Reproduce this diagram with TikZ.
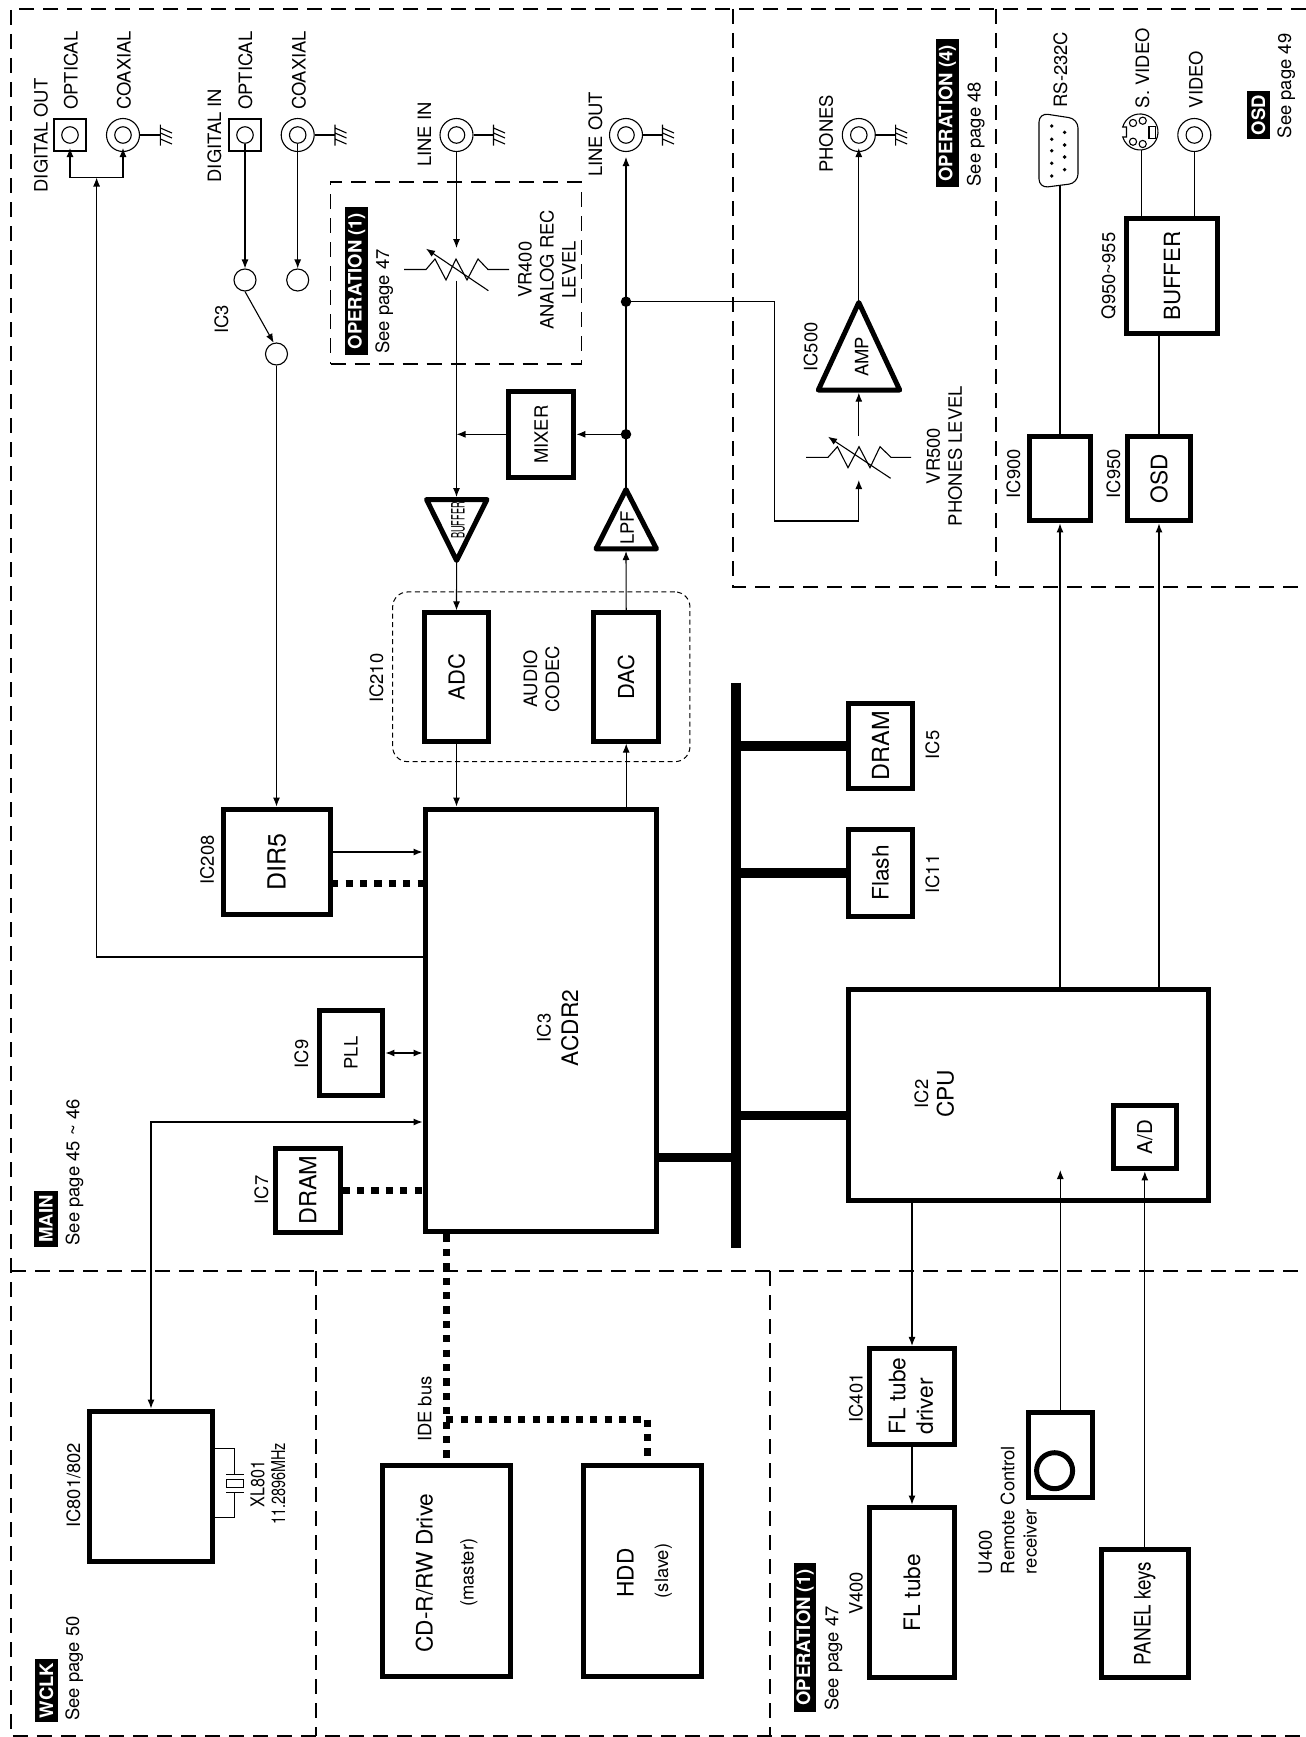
\documentclass[tikz,border=0pt]{standalone}
\usepackage{graphicx}
\usepackage{fontspec}
\setmainfont{TeX Gyre Heros}
\usetikzlibrary{arrows.meta}
\newcommand\rt[1]{\rotatebox{90}{#1}}
\tikzset{
  every node/.append style={font=\fontsize{18.4}{22}\selectfont},
  bigt/.style={font=\fontsize{22.7}{26}\selectfont},
  hugt/.style={font=\fontsize{22}{26}\selectfont},
  wire/.style={line width=1.1pt,>={Latex[length=9pt,width=7pt]}},
  frameline/.style={line width=1.7pt,dash pattern=on 15pt off 9pt},
  bx/.style 2 args={draw,line width=5pt,inner sep=0pt,minimum width=#1pt+2.4pt,minimum height=#2pt+2.4pt},
  tag/.style 2 args={fill=black,text=white,inner sep=0pt,minimum width=#1pt,minimum height=#2pt,font=\fontsize{18.5}{22}\selectfont\bfseries},
  lab/.style={rotate=90,anchor=base west,inner sep=0pt},
  clab/.style={rotate=90,anchor=base,inner sep=0pt},
  mlab/.style={rotate=90,anchor=center,inner sep=0pt,align=center},
  llab/.style={rotate=90,anchor=center,inner sep=0pt,align=left},
  jackout/.style={circle,draw,line width=1.1pt,minimum size=33pt,inner sep=0pt},
  jackin/.style={circle,draw,line width=1.1pt,minimum size=16.5pt,inner sep=0pt},
  optbox/.style={draw,line width=1.1pt,minimum size=32pt,inner sep=0pt},
  swc/.style={circle,draw,line width=1.1pt,minimum size=22pt,inner sep=0pt},
  jdot/.style={circle,fill=black,minimum size=10.5pt,inner sep=0pt},
  tri/.style={line width=5pt,line join=round},
  dotbus/.style={line width=7pt,dash pattern=on 7.2pt off 7.2pt},
  busbar/.style={line width=9.5pt},
  gnd/.pic={\draw[line width=1.1pt] (0,-10.5) -- (0,10.5)
     (0,-7) -- (11.5,-2) (0,-2) -- (11.5,3) (0,4) -- (11.5,9);},
}
\begin{document}
\begin{tikzpicture}[x=1pt,y=-1pt]
\useasboundingbox (0,0) rectangle (1306,1737);
\fill[white] (0,0) rectangle (1306,1737);
% dashed frames
\draw[frameline] (1306,9) -- (11,9) -- (11,1736) -- (1306,1736);
\draw[frameline] (11,1271) -- (1306,1271);
\draw[frameline] (733,9) -- (733,587) -- (1306,587);
\draw[frameline] (996,9) -- (996,587);
\draw[frameline] (316,1271) -- (316,1736);
\draw[frameline] (770,1271) -- (770,1736);
\node[frameline,draw,minimum width=251pt,minimum height=181.7pt,inner sep=0pt] (oponebox) at (456,273) {};
\node[draw,line width=1pt,dash pattern=on 5pt off 3.5pt,rounded corners=15pt,minimum width=297.3pt,minimum height=169.7pt,inner sep=0pt] (codecbox) at (541.3,676.8) {};
% connectors jacks
\node[optbox] (doptbox) at (70,135) {};
\node[jackin] (dopt) at (70,135) {};
\node[jackout] (dcoax) at (123,135) {};
\node[jackin] (dcoaxi) at (123,135) {};
\node[optbox] (ioptbox) at (245,135) {};
\node[jackin] (iopt) at (245,135) {};
\node[jackout] (icoax) at (297.7,135) {};
\node[jackin] (icoaxi) at (297.7,135) {};
\node[jackout] (linein) at (456.5,135) {};
\node[jackin] (lineini) at (456.5,135) {};
\node[jackout] (lineout) at (626,135) {};
\node[jackin] (lineouti) at (626,135) {};
\node[jackout] (phones) at (858.8,135) {};
\node[jackin] (phonesi) at (858.8,135) {};
\node[jackout] (video) at (1194.3,135) {};
\node[jackin] (videoi) at (1194.3,135) {};
\coordinate (g1) at (160.4,135); \coordinate (g2) at (335,135); \coordinate (g3) at (493.5,135);
\coordinate (g4) at (662.5,135); \coordinate (g5) at (895.6,135);
\foreach \a/\b in {dcoax/g1,icoax/g2,linein/g3,lineout/g4,phones/g5}{
  \draw[wire] (\a.east) -- (\b); \pic at (\b) {gnd};
}
% switch circles
\node[swc] (swa) at (245,280) {};
\node[swc] (swb) at (297.7,280) {};
\node[swc] (swc) at (276.5,354) {};
% boxes
\node[bx={63}{83.8}] (mixer) at (541.2,434.8) {\rt{MIXER}};
\node[bx={62.5}{125.8},hugt] (adc) at (456.5,677) {\rt{ADC}};
\node[bx={63}{125.8},hugt] (dac) at (626.2,677) {\rt{DAC}};
\node[bx={229.5}{420.5}] (acdr) at (541,1020.5) {};
\node[bx={104}{103.5},font=\fontsize{25}{28}\selectfont] (dir5) at (276.8,862) {\rt{DIR5}};
\node[bx={61.5}{83.5}] (pll) at (351,1053) {\rt{PLL}};
\node[bx={62}{81},font=\fontsize{23.5}{28}\selectfont] (dramb) at (307.8,1190.3) {\rt{DRAM}};
\node[bx={121}{148.5}] (wclk) at (151,1486.5) {};
\node[bx={126}{209.5}] (cdr) at (446.2,1571) {};
\node[bx={115}{209.5}] (hdd) at (642.3,1571) {};
\node[bx={62.5}{83.5},font=\fontsize{23.5}{28}\selectfont] (drama) at (880.5,746) {\rt{DRAM}};
\node[bx={62.5}{84},bigt] (flash) at (880.5,872.8) {\rt{Flash}};
\node[bx={358}{209.5}] (cpu) at (1028.3,1095) {};
\node[bx={61}{61.5},font=\fontsize{20.5}{24}\selectfont] (ad) at (1144.8,1137) {\rt{A/D}};
\node[bx={83.5}{94}] (flb) at (912,1396.6) {};
\node[bx={83.5}{168.5},bigt] (flt) at (912,1592.5) {\rt{FL tube}};
\node[bx={62}{83.5}] (remote) at (1060.3,1455) {};
\node[circle,draw,line width=5pt,minimum size=36pt,inner sep=0pt] (remotec) at (1054.6,1470.7) {};
\node[bx={84}{126.5},bigt] (panel) at (1144.8,1613.5) {\rt{\scalebox{.83}[1]{PANEL keys}}};
\node[bx={59.5}{82.5}] (icnine) at (1060,478.5) {};
\node[bx={61}{82.5},bigt] (osd) at (1159,478.5) {\rt{OSD}};
\node[bx={88.8}{113.2},font=\fontsize{22.3}{26}\selectfont] (bufbox) at (1172.3,276) {\rt{BUFFER}};
% triangles
\coordinate (bufa) at (426.5,499.5); \coordinate (bufb) at (487,499.5); \coordinate (buftip) at (456.6,560.5);
\coordinate (lpftip) at (626,489.5); \coordinate (lpfa) at (596,548.8); \coordinate (lpfb) at (656.5,548.8);
\coordinate (amptip) at (858.8,302.5); \coordinate (ampa) at (818.3,390); \coordinate (ampb) at (899.7,390);
\draw[tri] (bufa) -- (bufb) -- (buftip) -- cycle;
\draw[tri] (lpftip) -- (lpfa) -- (lpfb) -- cycle;
\draw[tri] (amptip) -- (ampa) -- (ampb) -- cycle;
% digital out
\coordinate (dsa) at (70,148); \coordinate (dsb) at (123,148);
\coordinate (dj) at (96.6,177.5); \coordinate (dk) at (96.6,957);
\draw[wire,<->] (dsa) -- (dsa |- dj) -- (dsb |- dj) -- (dsb);
\draw[wire,->] (acdr.west |- dk) -- (dk) -- (dj);
% digital in
\draw[wire,->] (iopt.south) -- (swa.north);
\draw[wire,->] (icoaxi.south) -- (swb.north);
\draw[wire,->] (swa.south) -- (swc.104);
\draw[wire,->] (swc.south) -- (dir5.north -| swc.south);
% line in + VR400
\coordinate (vatop) at (456.5,248); \coordinate (vabot) at (456.5,280.7); \coordinate (bufin) at (456.5,497);
\draw[wire,->] (linein.south) -- (vatop);
\draw[wire,line join=miter] (404,269.5) -- (426,269.5) -- (435,259) -- (446,280) -- (456,259) -- (467,280) -- (478,259) -- (488,269.5) -- (509,269.5);
\draw[wire,->] (488.4,290.7) -- (426,248.7);
\draw[wire,->] (vabot) -- (bufin);
\draw[wire,->] (456.6,562.5) -- (adc.north);
\draw[wire,->] (adc.south) -- (acdr.north -| adc.south);
\draw[wire,->] (acdr.north -| dac.south) -- (dac.south);
% line out
\coordinate (lotip) at (626,157);
\node[jdot] (ja) at (626,301.7) {};
\node[jdot] (jb) at (626,434.3) {};
\draw[wire,->] (lpftip) -- (lotip);
\draw[wire,->] (dac.north) -- (626,551);
\draw[wire,->] (jb) -- (mixer.east |- jb);
\draw[wire,->] (mixer.west |- jb) -- (vabot |- jb);
% phones path
\coordinate (vbtop) at (858.8,480); \coordinate (vbbot) at (858.8,436);
\draw[wire,->] (ja) -- (774.3,301.7) -- (774.3,521) -- (858.8,521) -- (vbtop);
\draw[wire] (806,457.3) -- (828,457.3) -- (837.4,446.7) -- (848,467.7) -- (859,446.7) -- (870,467.7) -- (880,446.7) -- (891,457.3) -- (911,457.3);
\draw[wire,->] (890.6,478.3) -- (828,436.7);
\draw[wire,->] (vbbot) -- (858.8,392.7);
\draw[wire,->] (amptip) -- (858.8,148);
% ACDR side
\draw[wire,->] ([yshift=10pt]dir5.east) -- ([yshift=10pt]dir5.east -| acdr.west);
\draw[dotbus,dash phase=1.3pt] ([yshift=-21.3pt]dir5.east) -- ([yshift=-21.3pt]dir5.east -| acdr.west);
\draw[wire,<->] (pll.east) -- (pll.east -| acdr.west);
\draw[dotbus] (dramb.east) -- (dramb.east -| acdr.west);
\coordinate (wc) at (150,1122);
\draw[wire,<->] (acdr.west |- wc) -- (wclk.north |- wc) -- (wclk.north);
% crystal
\coordinate (xa) at (234.4,1448.3); \coordinate (xb) at (234.4,1517.7);
\coordinate (xc) at (234.4,1474); \coordinate (xd) at (234.4,1492.7);
\draw[line width=1pt] (wclk.east |- xa) -- (xa) -- (xc) (226,1474) -- (243.7,1474);
\draw[line width=1pt] (226,1479.3) rectangle (243.7,1487.3);
\draw[line width=1pt] (226,1492.7) -- (243.7,1492.7) (xd) -- (xb) -- (wclk.east |- xb);
% IDE
\coordinate (idej) at (446.2,1419); \coordinate (idek) at (647.3,1419);
\draw[dotbus] (acdr.south -| cdr.north) -- (cdr.north);
\draw[dotbus] (idej) -- (idek) -- (hdd.north -| idek);
% bus bar
\coordinate (bustop) at (736,682.7); \coordinate (busbot) at (736,1248);
\coordinate (buscpu) at (736,1115.5); \coordinate (busac) at (736,1157.5);
\draw[busbar] (bustop) -- (busbot);
\draw[busbar] (bustop |- drama.west) -- (drama.west);
\draw[busbar] (bustop |- flash.west) -- (flash.west);
\draw[busbar] (buscpu) -- (cpu.west |- buscpu);
\draw[busbar] (acdr.east |- busac) -- (busac);
% CPU side
\coordinate (rtip) at (1060.3,1170);
\draw[wire,->] (cpu.north -| icnine.south) -- (icnine.south);
\draw[wire,->] (cpu.north -| osd.south) -- (osd.south);
\draw[wire,->] (remote.north) -- (rtip);
\draw[wire,->] (panel.north) -- (ad.south);
\draw[wire,->] (cpu.south -| flb.north) -- (flb.north);
\draw[wire,->] (flb.south) -- (flt.north);
\draw[wire] (osd.north |- bufbox.south) -- (osd.north);
% RS-232
\draw[line width=1.1pt,rounded corners=9pt] (1039,113) -- (1078,119) -- (1078,183) -- (1039,188) -- cycle;
\coordinate (rsb) at (1060,185.5);
\draw[wire] (icnine.north) -- (rsb);
\foreach \px/\py in {1051.7/126,1051.7/139.3,1051.7/150.7,1051.7/163.3,1051.7/176,1064.6/132.3,1064.6/145,1064.6/157,1064.6/169.7}{
  \fill (\px,\py) circle[radius=1.9];
}
% S-video
\coordinate (sv) at (1140,132);
\draw[line width=1.1pt] (1122.7,127) arc[start angle=196,end angle=524,radius=18] -- (1126.5,137) -- (1126.5,127) -- cycle;
\foreach \px/\py in {1133/123,1142.7/120.7,1133/141.7,1142.7/144}{
  \draw[line width=1.1pt] (\px,\py) circle[radius=3.6];
}
\draw[line width=1.1pt] (1149,126.7) rectangle (1155.7,138.3);
\draw[wire] (1141.6,150) -- (bufbox.north -| 1141.6,0);
\draw[wire] (video.south) -- (bufbox.north -| video.south);
% text labels
\node[lab] (tdout) at (47.7,192.5) {DIGITAL OUT};
\node[lab] (topta) at (77.5,110) {OPTICAL};
\node[lab] (tcoa) at (130.6,110) {COAXIAL};
\node[lab] (tdin) at (221,182.5) {DIGITAL IN};
\node[lab] (toptb) at (252,110) {OPTICAL};
\node[lab] (tcob) at (305.6,110) {COAXIAL};
\node[lab] (tlin) at (431,167) {LINE IN};
\node[lab] (tlout) at (602,177) {LINE OUT};
\node[lab] (tic3) at (228,334) {IC3};
\node[tag={23}{148}] (topa) at (356.5,281) {\rt{OPERATION (1)}};
\node[lab] (tseea) at (389,354) {See page 47};
\node[mlab] (tvra) at (546.8,269.7) {VR400\\ANALOG REC\\LEVEL};
\node[lab] (tph) at (832.8,173) {PHONES};
\node[tag={23}{148}] (topd) at (947.3,113.3) {\rt{OPERATION (4)}};
\node[lab] (tseed) at (980.5,186.7) {See page 48};
\node[lab] (trs) at (1067,107.7) {RS-232C};
\node[lab] (tsv) at (1149,108.3) {S. VIDEO};
\node[lab] (tvid) at (1202.7,108.3) {VIDEO};
\node[tag={22.6}{48.6}] (tosd) at (1258.3,115) {\rt{OSD}};
\node[lab] (tseeo) at (1291,138.3) {See page 49};
\node[lab] (tq) at (1115,319.3) {Q950\textasciitilde 955};
\node[lab] (tamp5) at (817.4,371.7) {IC500};
\node[clab] (tamp) at (868.4,357) {AMP};
\node[clab] (tbuf) at (464.7,520.5) {\scalebox{.5}[1]{BUFFER}};
\node[clab] (tlpf) at (633.8,528) {LPF};
\node[lab] (tic210) at (383,703) {IC210};
\node[mlab] (tcodec) at (541.3,679) {AUDIO\\CODEC};
\node[mlab] (tvrb) at (944.3,456) {VR500\\PHONES LEVEL};
\node[clab] (tic5) at (939,745) {IC5};
\node[clab] (tic11) at (939,874) {IC11};
\node[clab] (tic208) at (213.8,860) {IC208};
\node[clab] (tic3b) at (550.5,1028) {IC3};
\node[clab,bigt] (tacdr) at (578,1028) {ACDR2};
\node[clab] (tic9) at (308,1054) {IC9};
\node[clab] (tic7) at (268,1190) {IC7};
\node[tag={23.6}{55.7}] (tmain) at (45.8,1218.8) {\rt{MAIN}};
\node[lab] (tseem) at (79.4,1245.5) {See page 45 \textasciitilde\ 46};
\node[lab] (tide) at (431.4,1442) {IDE bus};
\node[lab] (tic801) at (80,1528) {IC801/802};
\node[font=\fontsize{19}{20.7}\selectfont,mlab] (txl) at (268,1484) {\scalebox{.85}[1]{XL801}\\\scalebox{.76}[1]{11.2896MHz}};
\node[tag={23}{62.4}] (twclk) at (46.5,1690.5) {\rt{WCLK}};
\node[lab] (tseew) at (79,1721) {See page 50};
\node[clab,bigt] (tcdr) at (432.7,1573) {CD-R/RW Drive};
\node[clab] (tmas) at (473.5,1572.7) {(master)};
\node[clab,bigt] (thdd) at (633.5,1573) {HDD};
\node[clab] (tsla) at (668,1571) {(slave)};
\node[clab] (tic401) at (862.7,1398) {IC401};
\node[llab,font=\fontsize{22.7}{27.5}\selectfont] (tfld) at (911,1396) {FL tube\\driver};
\node[lab] (tv400) at (862.7,1615) {V400};
\node[tag={22.6}{148.4}] (topb) at (805,1637.5) {\rt{OPERATION (1)}};
\node[lab] (tseeb) at (838.3,1711) {See page 47};
\node[llab,font=\fontsize{18.4}{22.4}\selectfont] (tu400) at (1007.7,1510) {U400\\Remote Control\\receiver};
\node[clab] (tic2) at (928,1094) {IC2};
\node[clab,bigt] (tcpu) at (953.7,1094) {CPU};
\node[lab] (tic900) at (1020,498.5) {IC900};
\node[lab] (tic950) at (1120,498.5) {IC950};
\end{tikzpicture}
\end{document}
